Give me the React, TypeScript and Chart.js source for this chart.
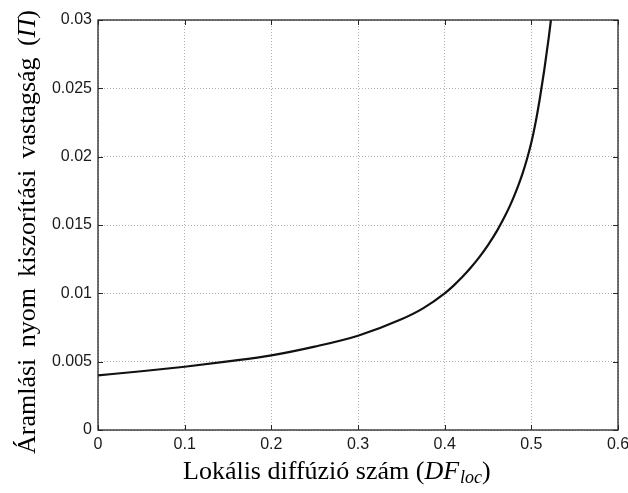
import React, { useEffect, useRef } from "react";
import { Chart, registerables } from "chart.js";

Chart.register(...registerables);

// Data
const dfLoc = [
  0, 0.05, 0.1, 0.15, 0.2, 0.25, 0.3, 0.35, 0.375, 0.4, 0.41, 0.42, 0.43, 0.44, 0.45, 0.46, 0.47, 0.475, 0.48,
  0.485, 0.49, 0.495, 0.5, 0.505, 0.51, 0.515, 0.52, 0.523,
];
const thickness = [
  0.004, 0.0043, 0.00463, 0.00502, 0.00546, 0.0061, 0.0069, 0.0081, 0.0089, 0.01, 0.01055, 0.01117, 0.01187,
  0.01265, 0.01353, 0.01453, 0.01571, 0.01636, 0.01709, 0.0179, 0.0188, 0.01983, 0.02103, 0.02253, 0.02433,
  0.02638, 0.02868, 0.0302,
];

const xTickLabels = ["0", "0.1", "0.2", "0.3", "0.4", "0.5", "0.6"];
const yTickLabels = ["0", "0.005", "0.01", "0.015", "0.02", "0.025", "0.03"];

const yTitleWords = ["Áramlási", "nyom", "kiszorítási", "vastagság"];
const yTitleSymbol = "Π";
const xTitleMain = "Lokális diffúzió szám (";
const xTitleSymbol = "DF";
const xTitleSub = "loc";

const SERIF = '"Liberation Serif", "Times New Roman", serif';
const SANS = '"Liberation Sans", Arial, sans-serif';

const framePlugin = {
  id: "matlabFrame",
  afterDraw(chart: any) {
    const ctx = chart.ctx as CanvasRenderingContext2D;
    const { left, right, top, bottom } = chart.chartArea;
    const xs = chart.scales.x;
    const ys = chart.scales.y;
    ctx.save();
    // inner tick marks on all four sides
    ctx.strokeStyle = "#262626";
    ctx.lineWidth = 1;
    const tl = 5;
    xs.ticks.forEach((t: any) => {
      const px = Math.round(xs.getPixelForValue(t.value)) + 0.5;
      ctx.beginPath();
      ctx.moveTo(px, bottom);
      ctx.lineTo(px, bottom - tl);
      ctx.moveTo(px, top);
      ctx.lineTo(px, top + tl);
      ctx.stroke();
    });
    ys.ticks.forEach((t: any) => {
      const py = Math.round(ys.getPixelForValue(t.value)) + 0.5;
      ctx.beginPath();
      ctx.moveTo(left, py);
      ctx.lineTo(left + tl, py);
      ctx.moveTo(right, py);
      ctx.lineTo(right - tl, py);
      ctx.stroke();
    });
    // box
    ctx.lineWidth = 1.3;
    ctx.strokeRect(left, top, right - left, bottom - top);

    // x title (mixed fonts)
    ctx.fillStyle = "#000";
    ctx.textBaseline = "alphabetic";
    ctx.textAlign = "left";
    let x = left + 85;
    const by = bottom + 49;
    ctx.font = `26px ${SERIF}`;
    ctx.fillText(xTitleMain, x, by);
    x += ctx.measureText(xTitleMain).width;
    ctx.font = `italic 26px ${SERIF}`;
    ctx.fillText(xTitleSymbol, x, by);
    x += ctx.measureText(xTitleSymbol).width;
    ctx.font = `italic 18px ${SERIF}`;
    ctx.fillText(xTitleSub, x + 1, by + 4);
    x += ctx.measureText(xTitleSub).width + 1;
    ctx.font = `26px ${SERIF}`;
    ctx.fillText(")", x, by);

    // y title (rotated, mixed fonts)
    ctx.save();
    ctx.translate(35, bottom + 24);
    ctx.rotate(-Math.PI / 2);
    ctx.font = `26px ${SERIF}`;
    const wordW = yTitleWords.map((w) => ctx.measureText(w).width);
    const openW = ctx.measureText("(").width;
    const closeW = ctx.measureText(")").width;
    ctx.font = `italic 26px ${SERIF}`;
    const symW = ctx.measureText(yTitleSymbol).width;
    const textW = wordW.reduce((a, b) => a + b, 0) + openW + closeW + symW;
    const gap = (444 - textW) / yTitleWords.length;
    let p = 0;
    ctx.font = `26px ${SERIF}`;
    yTitleWords.forEach((w, i) => {
      ctx.fillText(w, p, 0);
      p += wordW[i] + gap;
    });
    ctx.fillText("(", p, 0);
    p += openW;
    ctx.font = `italic 26px ${SERIF}`;
    ctx.fillText(yTitleSymbol, p, 0);
    p += symW;
    ctx.font = `26px ${SERIF}`;
    ctx.fillText(")", p, 0);
    ctx.restore();

    ctx.restore();
  },
};

export default function App() {
  const canvasRef = useRef<HTMLCanvasElement>(null);

  useEffect(() => {
    if (!canvasRef.current) return;
    const chart = new Chart(canvasRef.current, {
      type: "line",
      data: {
        datasets: [
          {
            data: dfLoc.map((v, i) => ({ x: v, y: thickness[i] })),
            borderColor: "#111111",
            borderWidth: 2.2,
            pointRadius: 0,
            fill: false,
            cubicInterpolationMode: "monotone",
          },
        ],
      },
      options: {
        animation: false,
        responsive: true,
        maintainAspectRatio: false,
        layout: { padding: { left: 0, top: 20, right: 10, bottom: 0 } },
        plugins: {
          legend: { display: false },
          tooltip: { enabled: false },
        },
        scales: {
          x: {
            type: "linear",
            min: 0,
            max: 0.6,
            afterFit: (s: any) => {
              s.height = 63;
              s.paddingLeft = 0;
              s.paddingRight = 0;
            },
            afterBuildTicks: (s: any) => {
              s.ticks = xTickLabels.map((l) => ({ value: parseFloat(l) }));
            },
            ticks: {
              callback: (_v: any, i: number) => xTickLabels[i],
              color: "#1a1a1a",
              font: { family: SANS, size: 16 },
              padding: 5,
              maxRotation: 0,
              autoSkip: false,
            },
            grid: {
              color: "#b0b0b0",
              lineWidth: 1,
              drawTicks: false,
            },
            border: { display: false, dash: [1, 2] },
          },
          y: {
            type: "linear",
            min: 0,
            max: 0.03,
            afterFit: (s: any) => {
              s.width = 98;
              s.paddingTop = 0;
              s.paddingBottom = 0;
            },
            afterBuildTicks: (s: any) => {
              s.ticks = yTickLabels.map((l) => ({ value: parseFloat(l) }));
            },
            ticks: {
              callback: (_v: any, i: number) => yTickLabels[i],
              color: "#1a1a1a",
              font: { family: SANS, size: 16 },
              padding: 6,
              autoSkip: false,
            },
            grid: {
              color: "#b0b0b0",
              lineWidth: 1,
              drawTicks: false,
            },
            border: { display: false, dash: [1, 2] },
          },
        },
      },
      plugins: [framePlugin],
    });
    return () => chart.destroy();
  }, []);

  return (
    <div style={{ position: "fixed", left: 0, top: 0, width: 628, height: 493, background: "#fff" }}>
      <canvas ref={canvasRef} />
    </div>
  );
}
